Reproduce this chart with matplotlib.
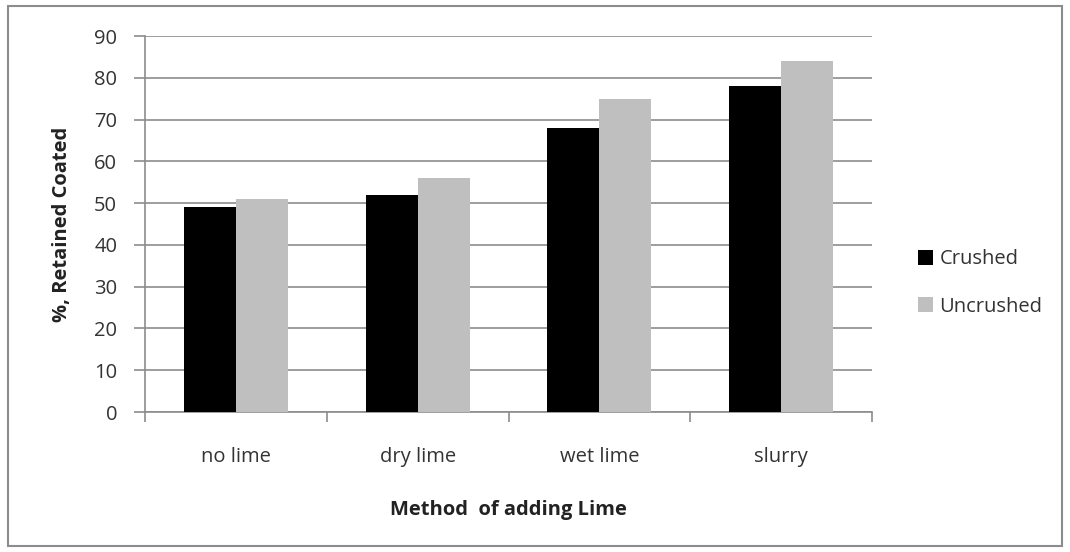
import matplotlib
matplotlib.use("Agg")
import matplotlib.pyplot as plt
import numpy as np
from matplotlib.patches import Rectangle

categories = ["no lime", "dry lime", "wet lime", "slurry"]
crushed = [49, 52, 68, 78]
uncrushed = [51, 56, 75, 84]
series_names = ["Crushed", "Uncrushed"]
yticks = [0, 10, 20, 30, 40, 50, 60, 70, 80, 90]

plt.rcParams['font.family'] = ['Open Sans', 'DejaVu Sans']

fig = plt.figure(figsize=(10.7, 5.52), dpi=100)
ax = fig.add_axes([145/1070, 1-412/552, (872-145)/1070, (412-36)/552])

x = np.arange(len(categories))
w = 1/3.5
ax.bar(x - w/2, crushed, width=w, color="black", label=series_names[0], zorder=3)
ax.bar(x + w/2, uncrushed, width=w, color="#bfbfbf", label=series_names[1], zorder=3)

ax.set_xlim(-0.5, len(categories) - 0.5)
ax.set_ylim(0, 90)
ax.set_yticks(yticks)
ax.yaxis.grid(True, color="#8c8c8c", linewidth=1.2, zorder=0)
ax.set_axisbelow(True)

fs = 14.5
ax.set_xticks(x)
ax.set_xticklabels(categories)
ax.set_xticks(np.arange(-0.5, len(categories)), minor=True)
ax.tick_params(axis='x', which='major', length=0, pad=25, labelsize=fs, labelcolor="#333333")
ax.tick_params(axis='x', which='minor', length=7, color="#8c8c8c", width=1.2)
ax.tick_params(axis='y', length=8, color="#8c8c8c", width=1.2, pad=12, labelsize=fs, labelcolor="#333333")

for s in ["top", "right"]:
    ax.spines[s].set_visible(False)
for s in ["left", "bottom"]:
    ax.spines[s].set_color("#8c8c8c")
    ax.spines[s].set_linewidth(1.2)

ax.set_ylabel("%, Retained Coated", fontsize=fs, fontweight="bold", color="#222222", labelpad=16)
ax.set_xlabel("Method  of adding Lime", fontsize=fs, fontweight="bold", color="#222222", labelpad=24)

leg = fig.legend(loc="center left", bbox_to_anchor=(900/1070, 1-283/552), frameon=False,
                 fontsize=fs, handlelength=0.75, handleheight=0.75, handletextpad=0.3,
                 labelspacing=1.35)
for t in leg.get_texts():
    t.set_color("#333333")

fig.patches.append(Rectangle((8/1070, 1-546/552), (1062-8)/1070, (546-6)/552,
                             transform=fig.transFigure, fill=False, edgecolor="#8c8c8c",
                             linewidth=1.5))

fig.savefig("out.png", dpi=100)
